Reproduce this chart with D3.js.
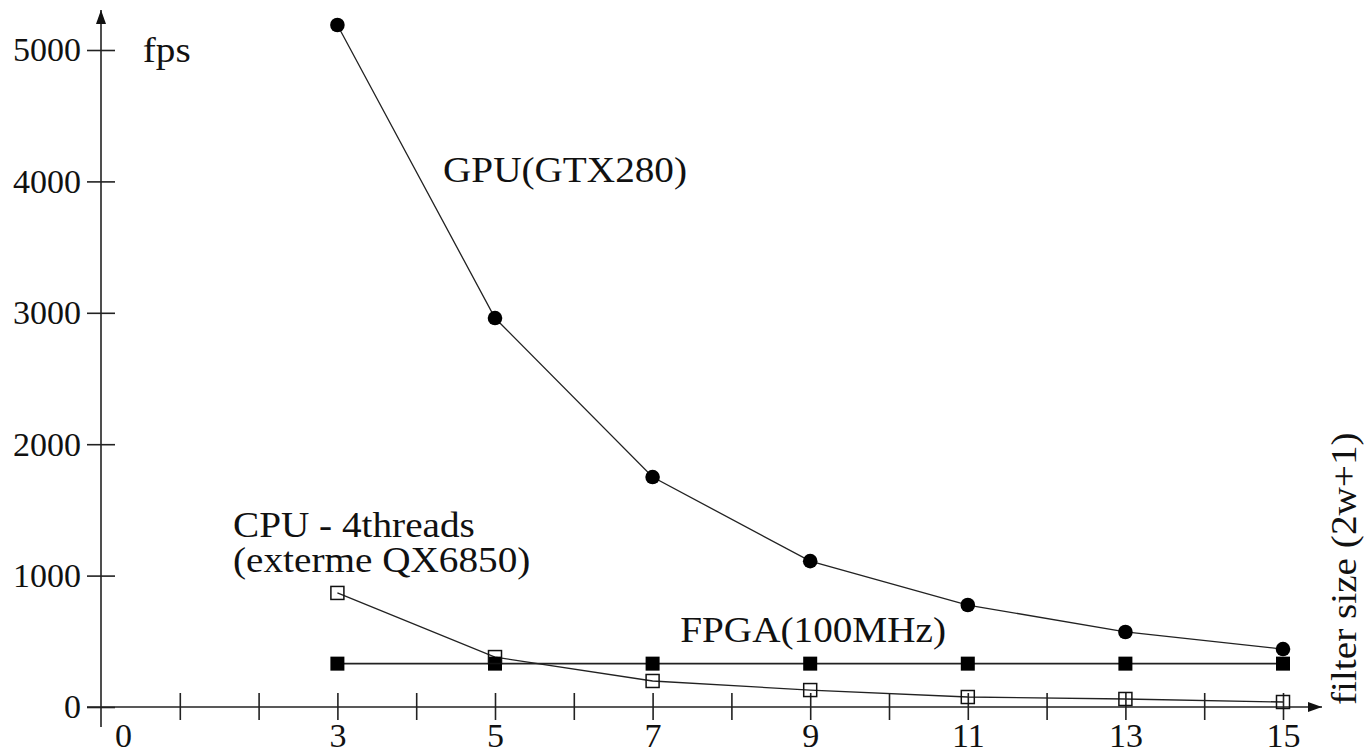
<!DOCTYPE html>
<html>
<head>
<meta charset="utf-8">
<script src="https://cdn.jsdelivr.net/npm/d3@7"></script>
<style>
  body { margin: 0; background: #fff; }
  svg text { font-family: "Liberation Serif", "DejaVu Serif", serif; fill: #111; }
</style>
</head>
<body>
<div id="chart"></div>
<script>
// filter size (2w+1)
var filterSizes = [3, 5, 7, 9, 11, 13, 15];
// fps per device
var gpuFps = [5190, 2960, 1750, 1110, 776, 571, 441];
var fpgaFps = [330, 330, 330, 330, 330, 330, 330];
var cpuFps = [868, 380, 198, 129, 76, 61, 38];

var xTickValues = d3.range(0, 16);
var xTickLabels = [0, 3, 5, 7, 9, 11, 13, 15];
var yTickValues = [0, 1000, 2000, 3000, 4000, 5000];

var W = 1364, H = 750;

var svg = d3.select("#chart").append("svg")
    .attr("width", W)
    .attr("height", H);

var x = d3.scaleLinear().domain([0, 15]).range([101, 1283]);
var y = d3.scaleLinear().domain([0, 5000]).range([707, 50]);

var defs = svg.append("defs");
defs.append("marker")
    .attr("id", "arrow")
    .attr("viewBox", "0 0 14 10")
    .attr("refX", 14).attr("refY", 5)
    .attr("markerWidth", 14).attr("markerHeight", 10)
    .attr("markerUnits", "userSpaceOnUse")
    .attr("orient", "auto")
    .append("path")
    .attr("d", "M0,0L14,5L0,10Z")
    .attr("fill", "#111");

// axes
var xAxis = d3.axisBottom(x)
    .tickValues(xTickValues)
    .tickSize(13)
    .tickFormat(function(d) { return xTickLabels.indexOf(d) >= 0 ? d : ""; });

var gx = svg.append("g")
    .attr("transform", "translate(0," + y(0) + ")")
    .call(xAxis);
gx.select(".domain").remove();
gx.selectAll(".tick line")
    .attr("y1", -14).attr("y2", 13)
    .attr("stroke", "#222").attr("stroke-width", 1.6);
gx.selectAll(".tick").filter(function(d) { return d === 0; }).select("line").remove();
gx.selectAll(".tick text")
    .attr("y", 40).attr("dy", 0)
    .attr("font-size", 34)
    .attr("fill", "#111");
gx.selectAll(".tick").filter(function(d) { return d === 0; }).select("text").attr("dx", 22);

var yAxis = d3.axisLeft(y)
    .tickValues(yTickValues)
    .tickSize(13)
    .tickFormat(d3.format("d"));

var gy = svg.append("g")
    .attr("transform", "translate(" + x(0) + ",0)")
    .call(yAxis);
gy.select(".domain").remove();
gy.selectAll(".tick line")
    .attr("x1", -14).attr("x2", 14)
    .attr("stroke", "#222").attr("stroke-width", 1.6);
gy.selectAll(".tick text")
    .attr("x", -20)
    .attr("font-size", 34)
    .attr("fill", "#111");

svg.append("line")
    .attr("x1", 87).attr("y1", y(0))
    .attr("x2", 1322).attr("y2", y(0))
    .attr("stroke", "#222").attr("stroke-width", 1.6)
    .attr("marker-end", "url(#arrow)");

svg.append("line")
    .attr("x1", x(0)).attr("y1", 727)
    .attr("x2", x(0)).attr("y2", 10)
    .attr("stroke", "#222").attr("stroke-width", 1.6)
    .attr("marker-end", "url(#arrow)");

// series
function series(vals) {
    return filterSizes.map(function(d, i) { return {x: d, y: vals[i]}; });
}
var line = d3.line()
    .x(function(d) { return x(d.x); })
    .y(function(d) { return y(d.y); });

var plot = svg.append("g");

plot.append("path").datum(series(fpgaFps))
    .attr("d", line).attr("fill", "none")
    .attr("stroke", "#222").attr("stroke-width", 1.6);
plot.append("path").datum(series(cpuFps))
    .attr("d", line).attr("fill", "none")
    .attr("stroke", "#222").attr("stroke-width", 1.3);
plot.append("path").datum(series(gpuFps))
    .attr("d", line).attr("fill", "none")
    .attr("stroke", "#222").attr("stroke-width", 1.3);

plot.selectAll(".fpga").data(series(fpgaFps)).enter().append("rect")
    .attr("x", function(d) { return x(d.x) - 7; })
    .attr("y", function(d) { return y(d.y) - 7; })
    .attr("width", 14).attr("height", 14)
    .attr("fill", "#000");

plot.selectAll(".cpu").data(series(cpuFps)).enter().append("rect")
    .attr("x", function(d) { return x(d.x) - 6.5; })
    .attr("y", function(d) { return y(d.y) - 6.5; })
    .attr("width", 13).attr("height", 13)
    .attr("fill", "none")
    .attr("stroke", "#111").attr("stroke-width", 1.5);

plot.selectAll(".gpu").data(series(gpuFps)).enter().append("circle")
    .attr("cx", function(d) { return x(d.x); })
    .attr("cy", function(d) { return y(d.y); })
    .attr("r", 7.3)
    .attr("fill", "#000");

// labels (the original typeface is a little wider than Liberation Serif)
function label(text, px, py) {
    svg.append("text")
        .attr("transform", "translate(" + px + "," + py + ") scale(1.09,1)")
        .attr("font-size", 36)
        .text(text);
}
label("fps", x(0.53), y(4909));
label("GPU(GTX280)", x(4.34), y(3995));
label("CPU - 4threads", x(1.675), y(1294));
label("(exterme QX6850)", x(1.675), y(1027));
label("FPGA(100MHz)", x(7.35), y(495));

svg.append("text")
    .attr("transform", "translate(1356,705) rotate(-90) scale(1.09,1)")
    .attr("font-size", 36)
    .text("filter size (2w+1)");
</script>
</body>
</html>
